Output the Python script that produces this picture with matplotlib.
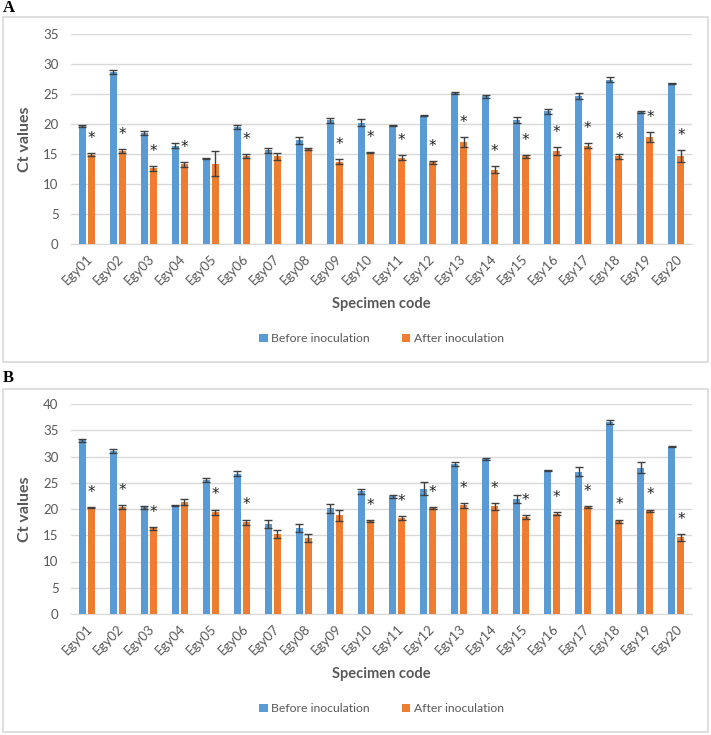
import matplotlib
matplotlib.use("Agg")
import numpy as np
import matplotlib.pyplot as plt
from matplotlib.patches import Rectangle

plt.rcParams['font.family'] = ['Lato', 'DejaVu Sans']

specimens = ["Egy%02d" % i for i in range(1, 21)]
series_names = ["Before inoculation", "After inoculation"]

# panel A
a_before = [19.7, 28.7, 18.5, 16.4, 14.2, 19.5, 15.6, 17.3, 20.6, 20.2,
            19.8, 21.4, 25.2, 24.6, 20.6, 22.1, 24.7, 27.4, 22.0, 26.8]
a_before_err = [0.2, 0.3, 0.4, 0.4, 0.1, 0.4, 0.4, 0.6, 0.4, 0.6,
                0.1, 0.1, 0.2, 0.3, 0.5, 0.4, 0.5, 0.4, 0.2, 0.1]
a_after = [14.9, 15.5, 12.6, 13.3, 13.4, 14.7, 14.6, 15.8, 13.7, 15.3,
           14.4, 13.6, 17.0, 12.4, 14.6, 15.5, 16.4, 14.6, 17.8, 14.7]
a_after_err = [0.2, 0.4, 0.4, 0.4, 2.1, 0.3, 0.6, 0.2, 0.4, 0.1,
               0.4, 0.3, 0.9, 0.6, 0.3, 0.6, 0.4, 0.4, 0.8, 1.0]
a_signif = [1, 1, 1, 1, 0, 1, 0, 0, 1, 1, 1, 1, 1, 1, 1, 1, 1, 1, 1, 1]

# panel B
b_before = [33.1, 31.1, 20.3, 20.7, 25.5, 26.7, 17.2, 16.4, 20.1, 23.4,
            22.4, 23.9, 28.6, 29.6, 21.9, 27.4, 27.1, 36.6, 27.9, 31.9]
b_before_err = [0.3, 0.4, 0.3, 0.1, 0.4, 0.5, 0.8, 0.8, 0.9, 0.5,
                0.3, 1.3, 0.4, 0.2, 0.8, 0.1, 0.9, 0.4, 1.0, 0.1]
b_after = [20.3, 20.4, 16.3, 21.4, 19.4, 17.5, 15.2, 14.5, 18.8, 17.7,
           18.3, 20.2, 20.7, 20.5, 18.5, 19.1, 20.4, 17.7, 19.7, 14.6]
b_after_err = [0.1, 0.4, 0.3, 0.6, 0.5, 0.5, 0.8, 0.8, 1.0, 0.2,
               0.3, 0.2, 0.5, 0.6, 0.4, 0.3, 0.2, 0.3, 0.2, 0.6]
b_signif = [1, 1, 1, 0, 1, 1, 0, 0, 0, 1, 1, 1, 1, 1, 1, 1, 1, 1, 1, 1]

BLUE = "#5B9BD5"
ORANGE = "#ED7D31"
GREY = "#595959"
GRID = "#D9D9D9"

W, H = 711, 735
fig = plt.figure(figsize=(W / 100, H / 100), dpi=100)


def draw_panel(ax, before, before_err, after, after_err, signif, ymax):
    x = np.arange(len(specimens))
    bw = 0.226
    off = 0.145
    ekw = dict(ecolor="#404040", elinewidth=1.0, capsize=2.8, capthick=1.0)
    ax.bar(x - off, before, bw, yerr=before_err, color=BLUE,
           label=series_names[0], error_kw=ekw, zorder=3)
    ax.bar(x + off, after, bw, yerr=after_err, color=ORANGE,
           label=series_names[1], error_kw=ekw, zorder=3)
    for i, s in enumerate(signif):
        if s:
            ax.annotate("*", (x[i] + off, after[i] + after_err[i]),
                        xytext=(0, 10.5), textcoords="offset points",
                        ha="center", va="center", fontsize=11,
                        color="#222222", family="DejaVu Sans")
    ax.set_xlim(-0.5, len(specimens) - 0.5)
    ax.set_ylim(0, ymax)
    ax.set_yticks(np.arange(0, ymax + 1, 5))
    ax.grid(axis="y", color=GRID, linewidth=1, zorder=0)
    for sp in ["top", "right", "left"]:
        ax.spines[sp].set_visible(False)
    ax.spines["bottom"].set_color(GRID)
    ax.tick_params(axis="both", length=0, colors=GREY, labelsize=9.5)
    ax.tick_params(axis="y", pad=9)
    ax.set_xticks(x)
    ax.set_xticklabels(specimens, rotation=45, ha="right",
                       rotation_mode="anchor", fontsize=9.5, color=GREY)
    ax.tick_params(axis="x", pad=6)
    ax.set_ylabel("Ct values", fontsize=11.5, fontweight="bold", color=GREY,
                  labelpad=8)
    ax.set_xlabel("Specimen code", fontsize=10.5, fontweight="bold",
                  color=GREY, labelpad=7)
    ax.legend(loc="upper center", bbox_to_anchor=(0.5, -0.372), ncol=2,
              frameon=False, fontsize=8.8, handlelength=0.7, handleheight=0.7,
              columnspacing=2.6, handletextpad=0.3, labelcolor=GREY)


def fy(py):
    return 1 - py / H


# panel A
axA = fig.add_axes([71 / W, fy(244), 621 / W, (244 - 34) / H])
draw_panel(axA, a_before, a_before_err, a_after, a_after_err, a_signif, 35)
# panel B
axB = fig.add_axes([71 / W, fy(614), 621 / W, (614 - 404) / H])
draw_panel(axB, b_before, b_before_err, b_after, b_after_err, b_signif, 40)

for top, bot in [(17, 362), (389, 732)]:
    fig.patches.append(Rectangle((3 / W, fy(bot)), 705 / W, (bot - top) / H,
                                 transform=fig.transFigure, fill=False,
                                 edgecolor=GRID, linewidth=1.2))

fig.text(3 / W, fy(8), "A", fontsize=12, fontweight="bold",
         family="Liberation Serif", va="center", ha="left")
fig.text(3 / W, fy(378), "B", fontsize=12, fontweight="bold",
         family="Liberation Serif", va="center", ha="left")

fig.savefig("out.png", dpi=100)
